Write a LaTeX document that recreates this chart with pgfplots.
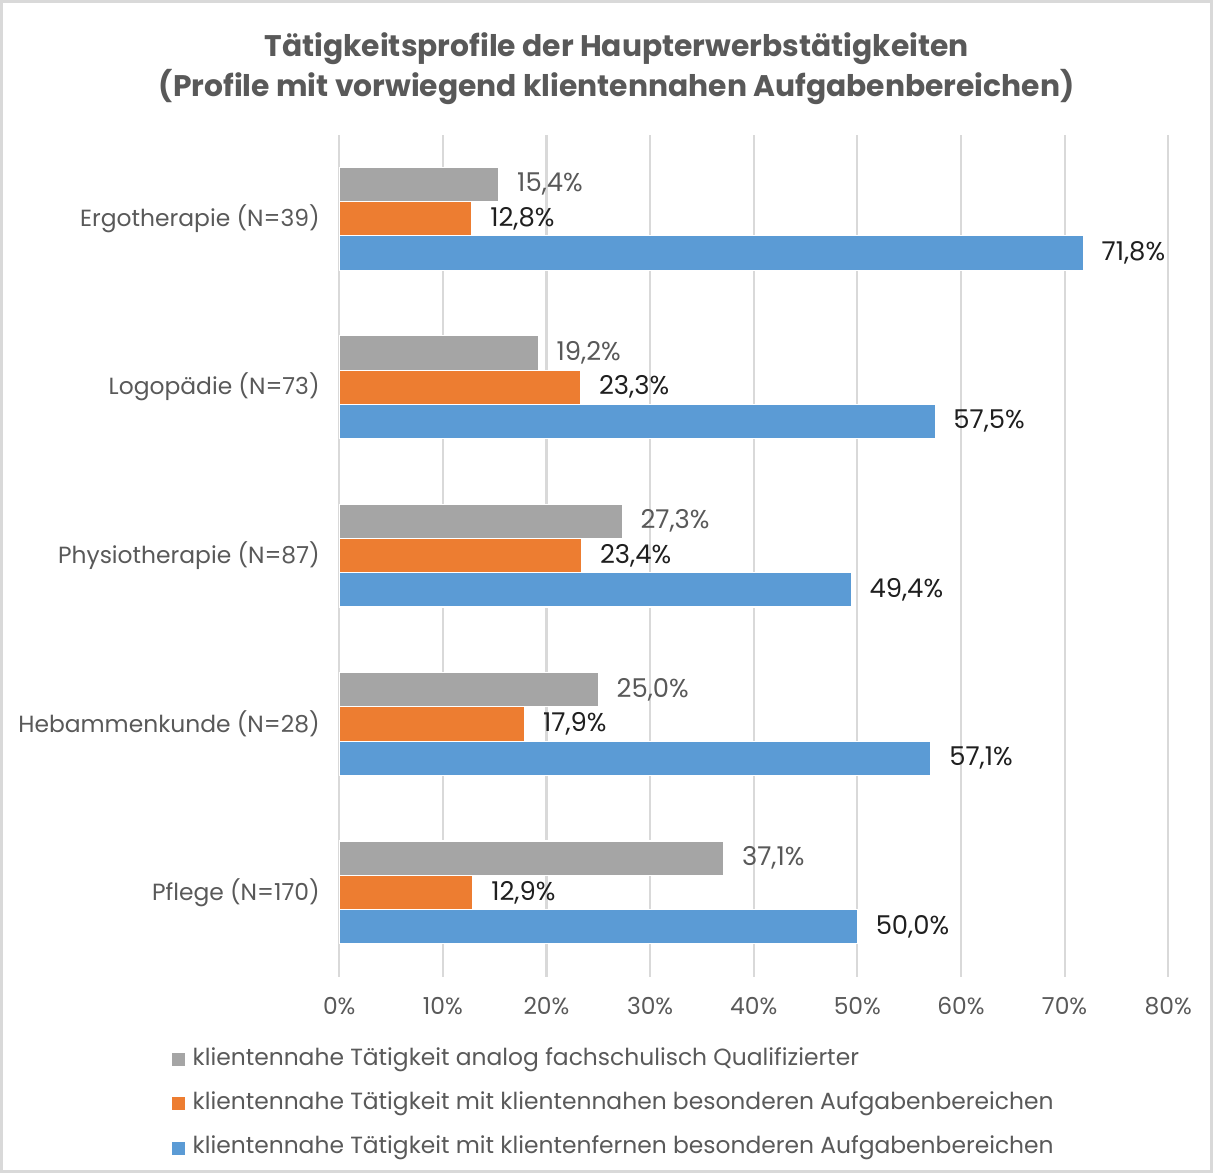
\documentclass[border=0pt]{standalone}
\usepackage{pgfplots}
\pgfplotsset{compat=1.18}
\usepackage{fontspec}
\setmainfont{Poppins}
\definecolor{cgray}{HTML}{A5A5A5}
\definecolor{corange}{HTML}{ED7D31}
\definecolor{cblue}{HTML}{5B9BD5}
\definecolor{txt}{HTML}{595959}
\definecolor{gridc}{HTML}{D9D9D9}
\begin{document}
\begin{tikzpicture}[x=1cm,y=1cm]
% outer frame
\draw[gridc, line width=0.8pt] (-3.35,-1.93) rectangle (8.65,9.67);
\begin{axis}[
    at={(0,0)}, anchor=south west,
    scale only axis,
    width=8.22cm, height=8.35cm,
    xbar, bar width=0.34cm,
    xmin=0, xmax=80,
    ymin=-0.5, ymax=4.5,
    xtick={0,10,...,80},
    xticklabel={\pgfmathprintnumber{\tick}\%},
    ytick={0,1,2,3,4},
    yticklabels={Pflege (N=170),Hebammenkunde (N=28),Physiotherapie (N=87),Logopädie (N=73),Ergotherapie (N=39)},
    xmajorgrids, major grid style={gridc, line width=0.6pt},
    axis line style={draw=none},
    major tick length=0pt,
    tick label style={font=\fontsize{6.6}{8}\selectfont, text=txt},
    xticklabel style={yshift=-0.08cm},
    yticklabel style={xshift=-0.07cm},
    /pgf/number format/assume math mode=true,
    nodes near coords={\pgfmathprintnumber[fixed,fixed zerofill,precision=1,use comma,assume math mode=true]{\pgfplotspointmeta}\%},
    nodes near coords style={font=\fontsize{7.3}{8}\selectfont, anchor=west, xshift=0.06cm},
    clip=false,
]
% klientenfern (blue, bottom of each group)
\addplot[fill=cblue, draw=white, line width=0.3pt, bar shift=-0.34cm,
    nodes near coords style={text=black!88}] coordinates {
    (50.0,0) (57.1,1) (49.4,2) (57.5,3) (71.8,4)
};
% klientennah besondere (orange, middle)
\addplot[fill=corange, draw=white, line width=0.3pt, bar shift=0cm,
    nodes near coords style={text=black!88}] coordinates {
    (12.9,0) (17.9,1) (23.4,2) (23.3,3) (12.8,4)
};
% analog fachschulisch (gray, top)
\addplot[fill=cgray, draw=white, line width=0.3pt, bar shift=0.34cm,
    nodes near coords style={text=txt}] coordinates {
    (37.1,0) (25.0,1) (27.3,2) (19.2,3) (15.4,4)
};
\end{axis}
% title
\node[font=\bfseries\fontsize{8.4}{11.3}\selectfont, text=txt, align=center] at (2.75,9.00)
  {Tätigkeitsprofile der Haupterwerbstätigkeiten\\(Profile mit vorwiegend klientennahen Aufgabenbereichen)};
% legend
\foreach \c/\t [count=\i] in {cgray/klientennahe Tätigkeit analog fachschulisch Qualifizierter,
  corange/klientennahe Tätigkeit mit klientennahen besonderen Aufgabenbereichen,
  cblue/klientennahe Tätigkeit mit klientenfernen besonderen Aufgabenbereichen} {
  \fill[\c] (-1.66,{-0.82-0.44*(\i-1)-0.065}) rectangle ++(0.13,0.13);
  \node[anchor=west, inner sep=0pt, font=\fontsize{6.6}{8}\selectfont, text=txt] at (-1.46,{-0.82-0.44*(\i-1)}) {\t};
}
\end{tikzpicture}
\end{document}
